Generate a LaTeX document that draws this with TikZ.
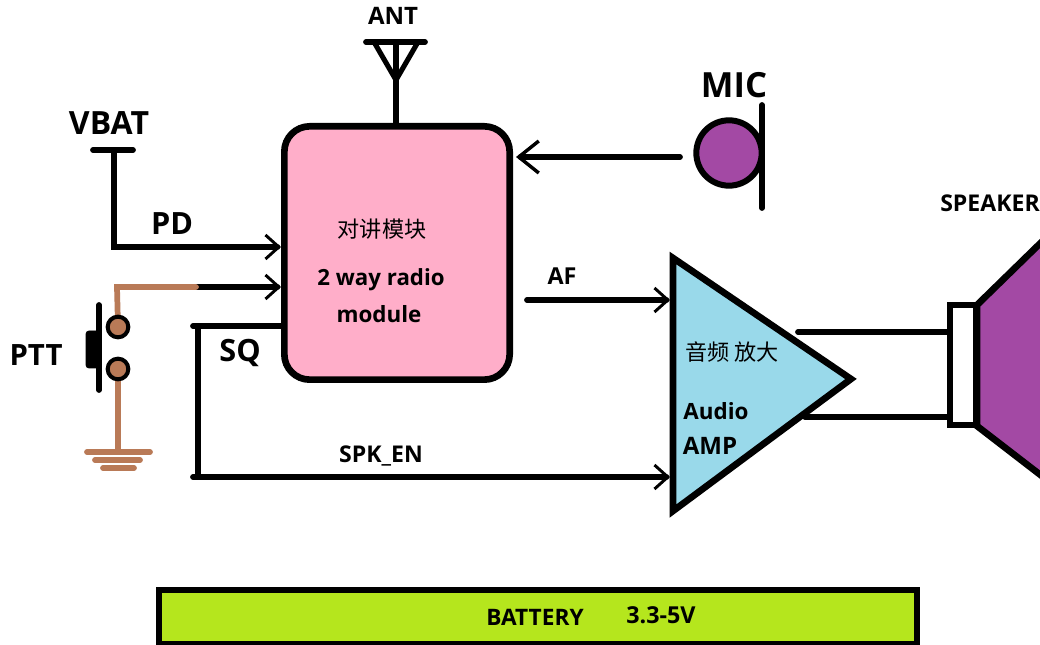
\documentclass[tikz,border=0pt]{standalone}
\usepackage{fontspec}
\setmainfont{Open Sans}
\newfontfamily\cjk{Noto Sans CJK SC}
\usetikzlibrary{arrows.meta}
\definecolor{modpink}{HTML}{FFAEC9}
\definecolor{amblue}{HTML}{99D9EA}
\definecolor{spkpurple}{HTML}{A349A4}
\definecolor{wirebrown}{HTML}{B97A57}
\definecolor{batgreen}{HTML}{B5E61D}
\tikzset{>={Straight Barb[length=10pt,width=18pt,line width=2.2pt]}}
\tikzset{
  wire/.style={line width=4.3pt,line cap=round},
  thinwire/.style={line width=3.8pt,line cap=round},
  brownwire/.style={wire,wirebrown},
  lbl/.style={inner sep=0pt,font=\bfseries\fontsize{#1}{#1}\selectfont},
  lbl/.default=15pt,
  cjklbl/.style={inner sep=0pt,font=\cjk\fontsize{16.6pt}{16.6pt}\selectfont},
  contact/.style={circle,draw,fill=wirebrown,line width=3pt,minimum size=15.5pt,inner sep=0pt}
}
\begin{document}
\begin{tikzpicture}[x=0.75pt,y=-0.75pt]
  \useasboundingbox (0,0) rectangle (1040,645);
  \clip (0,0) rectangle (1040,645);
  % wire ends
  \coordinate (anttop) at (396,42);
  \coordinate (anttip) at (396,80);
  \coordinate (antl) at (366,42);
  \coordinate (antr) at (425,42);
  \coordinate (antdl) at (374,42);
  \coordinate (antdr) at (418,42);
  \coordinate (micout) at (680,157);
  \coordinate (micin) at (516,157);
  \coordinate (mictop) at (762,105);
  \coordinate (micbot) at (762,208);
  \coordinate (vbat) at (114,150);
  \coordinate (vbatl) at (93,150);
  \coordinate (vbatr) at (133,150);
  \coordinate (pdin) at (281,247);
  \coordinate (pttbend) at (117,287);
  \coordinate (pttmid) at (196,287);
  \coordinate (pttin) at (281,287);
  \coordinate (gnd) at (118,452);
  \coordinate (gndal) at (87,452);
  \coordinate (gndar) at (150,452);
  \coordinate (gndbl) at (95,460);
  \coordinate (gndbr) at (140,460);
  \coordinate (gndcl) at (103,468);
  \coordinate (gndcr) at (134,468);
  \coordinate (swtop) at (99,305);
  \coordinate (swbot) at (99,390);
  \coordinate (sqout) at (282,326);
  \coordinate (sqend) at (193,326);
  \coordinate (sqcorner) at (198,326);
  \coordinate (enfoot) at (198,477);
  \coordinate (enstart) at (193,477);
  \coordinate (enin) at (670,477);
  \coordinate (afout) at (527,300);
  \coordinate (afin) at (670,300);
  \coordinate (spka) at (798,332);
  \coordinate (spkain) at (948,332);
  \coordinate (spkb) at (805,417);
  \coordinate (spkbin) at (948,417);
  % blocks
  \node[draw,fill=modpink,line width=5pt,rounded corners=19pt,minimum width=169pt,minimum height=190pt,inner sep=0pt] (radio) at (397,253) {};
  \draw[fill=amblue,line width=5pt,line join=miter] (673,258) coordinate (ampa) -- (851,379) coordinate (ampo) -- (673,511) coordinate (ampb) -- cycle;
  \draw[fill=spkpurple,line width=5pt] (977,305) -- (1060,224) -- (1060,490) -- (977,426) -- cycle;
  \node[draw,fill=white,line width=4.5pt,minimum width=19pt,minimum height=90pt,inner sep=0pt] (coil) at (963,365.5) {};
  \node[draw,fill=batgreen,line width=4.5pt,minimum width=568pt,minimum height=40.5pt,inner sep=0pt] (bat) at (538,617) {};
  % antenna
  \draw[wire] (antl) -- (antr);
  \draw[thinwire] (antdl) -- (anttip) -- (antdr);
  \draw[wire] (anttop) -- (radio.north -| anttop);
  % mic
  \node[circle,draw,fill=spkpurple,line width=4.5pt,minimum size=49pt,inner sep=0pt] (micbody) at (729,153) {};
  \draw[wire] (mictop) -- (micbot);
  \draw[-{Straight Barb[length=15pt,width=24pt,line width=2.6pt]},wire] (micout) -- (micin);
  % vbat and pd
  \draw[wire] (vbatl) -- (vbatr);
  \draw[->,wire] (vbat) |- (pdin);
  % ptt
  \draw[->,wire] (pttmid) -- (pttin);
  \draw[brownwire] (118,327) -- (pttbend) -- (pttmid);
  \draw[brownwire] (118,369) -- (gnd);
  \node[contact] (swa) at (118,327) {};
  \node[contact] (swb) at (118,369) {};
  \draw[brownwire] (gndal) -- (gndar);
  \draw[brownwire] (gndbl) -- (gndbr);
  \draw[brownwire] (gndcl) -- (gndcr);
  \draw[wire] (swtop) -- (swbot);
  \draw[fill=black,rounded corners=2pt] (99,331) -- (86,331) -- (86,368) -- (99,368) -- cycle;
  % sq and amp inputs
  \draw[wire] (sqout) -- (sqend);
  \draw[wire] (sqcorner) -- (enfoot);
  \draw[->,wire] (enstart) -- (enin);
  \draw[->,wire] (afout) -- (afin);
  % speaker wires
  \draw[wire] (spka) -- (spkain);
  \draw[wire] (spkb) -- (spkbin);
  % labels
  \node[lbl=18pt] (antlbl) at (393,16) {ANT};
  \node[lbl=26pt] (miclbl) at (734,85) {MIC};
  \node[lbl=24pt] (vbatlbl) at (109,123) {VBAT};
  \node[lbl=23pt] (pdlbl) at (172,224) {PD};
  \node[lbl=22pt] (pttlbl) at (36,355) {PTT};
  \node[lbl=23pt] (sqlbl) at (240,353) {SQ};
  \node[lbl=17.3pt] (enlbl) at (381,456) {SPK\_EN};
  \node[lbl=17.5pt] (aflbl) at (562,276) {AF};
  \node[lbl=17.3pt] (spklbl) at (990,203) {SPEAKER};
  \node[cjklbl] (radiocn) at (382,229) {对讲模块};
  \node[lbl=16.7pt] (radioa) at (381,280) {2 way radio};
  \node[lbl=16.8pt] (radiob) at (379,314) {module};
  \node[cjklbl] (ampcn) at (732,352) {音频 放大};
  \node[lbl=16.8pt] (ampta) at (716,411) {Audio};
  \node[lbl=18pt] (amptb) at (710,446) {AMP};
  \node[lbl=17pt] (batlbl) at (535,617) {BATTERY};
  \node[lbl=17.5pt] (battv) at (661,615) {3.3-5V};
\end{tikzpicture}
\end{document}
